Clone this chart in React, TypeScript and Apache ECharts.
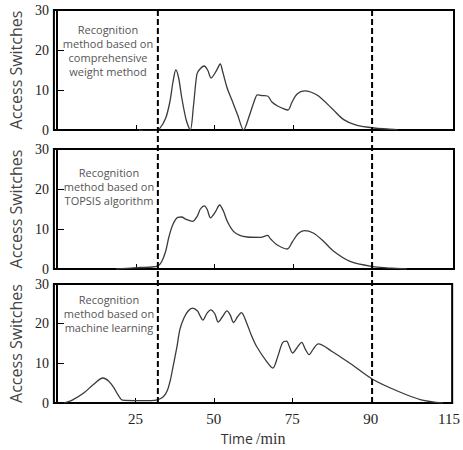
import React, { useEffect, useRef } from "react";
import * as echarts from "echarts";

// x axis positions of ticks and the labels printed at them
const xTickValues = [25, 50, 75, 100, 125];
const xTickLabels = ["25", "50", "75", "90", "115"];
const xMinorTicks = [25, 50, 75];
const dashedLineX = [32, 100];

const yMin = 0;
const yMax = 30;
const yInterval = 10;
const yName = "Access Switches";

const annotations = [
  "Recognition\nmethod based on\ncomprehensive\nweight method",
  "Recognition\nmethod based on\nTOPSIS algorithm",
  "Recognition\nmethod based on\nmachine learning",
];

const weightSeries: [number, number][] = [
  [26, 0], [28.5, -0.3], [31, -0.2], [32.5, 0.3], [34.5, 3], [35.8, 7], [36.8, 12], [37.7, 15],
  [38.6, 13], [39.6, 8], [41, 2.5], [42.3, 0], [43.3, 6], [44.4, 14], [45.3, 15.2], [46.7, 16],
  [47.8, 15], [48.9, 13], [50.5, 14.7], [51.8, 16.5], [52.6, 14.5], [54, 10.5], [55.5, 7.5],
  [57.3, 3.8], [59.2, 0], [61, 3.5], [62.5, 7], [63.6, 8.8], [65, 8.6], [66.8, 8.5], [68.2, 7],
  [70, 6], [72, 5.3], [73.3, 5], [74.6, 7], [76.2, 9], [78.5, 9.8], [80.5, 9.5], [83, 8.5],
  [87.5, 5.2], [91, 2.6], [95, 1.2], [100.6, 0.5], [108, 0.1],
];

const topsisSeries: [number, number][] = [
  [18.7, 0], [24.4, 0.3], [30, 0.5], [32, 0.8], [33.2, 1.8], [34.5, 4.5], [35.5, 8], [36.7, 11],
  [38.3, 12.9], [39.5, 13], [41, 12.4], [43, 11.9], [44.5, 13.2], [45.5, 15], [46.8, 15.8],
  [47.7, 14.8], [48.7, 12.8], [50.2, 14.2], [51.6, 16], [52.8, 14.5], [54.1, 11.8], [56, 9.4],
  [58, 8.4], [60.4, 8], [64.6, 7.9], [66.8, 8.4], [67.8, 7.5], [69.9, 6], [73.1, 5], [74.7, 6.8],
  [76.5, 8.8], [78.5, 9.6], [81.3, 9], [84.5, 7], [87.7, 4.5], [93, 1.9], [100.3, 0.6],
  [105, 0.3], [111, 0],
];

const mlSeries: [number, number][] = [
  [2.2, 0], [5, 0.8], [8.5, 2.5], [11.5, 4.6], [14.6, 6.3], [16.5, 5.5], [18, 4], [19.5, 2],
  [20.9, 0.7], [25, 0.6], [30, 0.6], [32, 0.8], [33.8, 1.5], [35.1, 3], [36.2, 6], [37, 9.2],
  [38.2, 14], [39.2, 18.6], [40.5, 21.5], [41.8, 23.2], [43.2, 23.9], [44.8, 23.2], [45.6, 22],
  [46.5, 20.9], [47.8, 22.6], [49, 23.5], [50.3, 22.5], [51.4, 20.4], [52.8, 21.8], [54.2, 23.2],
  [55.2, 22.2], [56.3, 20.3], [57.6, 21.8], [58.8, 22.8], [60.4, 20.3], [62, 17], [63.6, 14.3],
  [66.8, 10.5], [68.8, 8.8], [70.3, 11.5], [71.9, 15.2], [73.2, 15.6], [74.1, 14.2], [75.1, 12.6],
  [76.4, 13.8], [78, 15.3], [79.2, 13.5], [80.4, 12.2], [81.7, 13.6], [83.3, 14.9], [87.7, 13],
  [94, 9.7], [100.6, 6], [108.9, 2.9], [116.1, 0.8], [123.1, 0],
];

const panels = [weightSeries, topsisSeries, mlSeries];

const gridTops = [10, 149, 284];
const gridHeights = [120, 120, 119];

const SERIF = "'Liberation Serif', 'Times New Roman', serif";
const SANS = "'Open Sans', 'Noto Sans', sans-serif";

export default function App() {
  const ref = useRef<HTMLDivElement>(null);

  useEffect(() => {
    document.body.style.margin = "0";
    if (!ref.current) return;
    const chart = echarts.init(ref.current, undefined, { renderer: "svg" });
    const labelMap: Record<number, string> = {};
    xTickValues.forEach((v, i) => (labelMap[v] = xTickLabels[i]));

    const grids = panels.map((_, i) => ({
      show: true,
      borderColor: "#000",
      borderWidth: 2,
      backgroundColor: "transparent",
      left: 53,
      right: 9,
      top: gridTops[i],
      height: gridHeights[i],
    }));

    const xAxes = panels.map((_, i) => ({
      type: "value",
      gridIndex: i,
      min: -1,
      max: 126,
      axisLine: { show: true, onZero: false, lineStyle: { color: "#000", width: 2 } },
      axisTick: {
        show: true,
        inside: true,
        length: 5,
        customValues: xMinorTicks,
        lineStyle: { color: "#000", width: 1 },
      },
      axisLabel: {
        show: i === 2,
        customValues: xTickValues,
        formatter: (v: number) => labelMap[v] ?? "",
        fontFamily: SERIF,
        fontSize: 15,
        color: "#222",
        margin: 8,
      },
      splitLine: { show: false },
      name: i === 2 ? "{a|Time} {b|/min}" : "",
      nameLocation: "middle",
      nameGap: 27,
      nameTextStyle: {
        rich: {
          a: { fontFamily: SANS, fontSize: 14, color: "#333" },
          b: { fontFamily: SERIF, fontSize: 16, color: "#333" },
        },
      },
    }));

    const yAxes = panels.map((_, i) => ({
      type: "value",
      gridIndex: i,
      min: yMin,
      max: yMax,
      interval: yInterval,
      name: yName,
      nameLocation: "middle",
      nameGap: 24,
      nameTextStyle: { fontFamily: SANS, fontSize: 16, color: "#444" },
      axisLine: { show: true, lineStyle: { color: "#000", width: 2 } },
      axisTick: { show: true, inside: true, length: 7, lineStyle: { color: "#000", width: 1 } },
      axisLabel: { fontFamily: SERIF, fontSize: 14, lineHeight: 14, color: "#222", margin: 5 },
      splitLine: { show: false },
    }));

    const series = panels.map((d, i) => ({
      type: "line",
      xAxisIndex: i,
      yAxisIndex: i,
      data: d,
      showSymbol: false,
      smooth: 0.3,
      lineStyle: { color: "#3a3a3a", width: 1.3 },
      silent: true,
    }));

    chart.setOption({
      animation: false,
      grid: grids,
      xAxis: xAxes,
      yAxis: yAxes,
      series,
    });

    const topY = chart.convertToPixel({ yAxisIndex: 0 }, yMax) as number;
    const botY = chart.convertToPixel({ yAxisIndex: 2 }, yMin) as number;
    const dashed = dashedLineX.map((v) => {
      const px = chart.convertToPixel({ xAxisIndex: 0 }, v) as number;
      return {
        type: "line",
        z: 100,
        shape: { x1: px, y1: topY, x2: px, y2: botY },
        style: { stroke: "#000", lineWidth: 2, lineDash: [6, 3] },
      };
    });
    const annX = [108, 109, 109];
    const annY = [50, 186, 313];
    const texts = annotations.map((t, i) => ({
      type: "text",
      z: 50,
      x: annX[i],
      y: annY[i],
      style: {
        text: t,
        align: "center",
        verticalAlign: "middle",
        fontFamily: SANS,
        fontSize: 11,
        lineHeight: 14,
        fill: "#555",
      },
    }));
    chart.setOption({ graphic: [...texts, ...dashed] });

    return () => chart.dispose();
  }, []);

  return <div ref={ref} style={{ width: 463, height: 450 }} />;
}
